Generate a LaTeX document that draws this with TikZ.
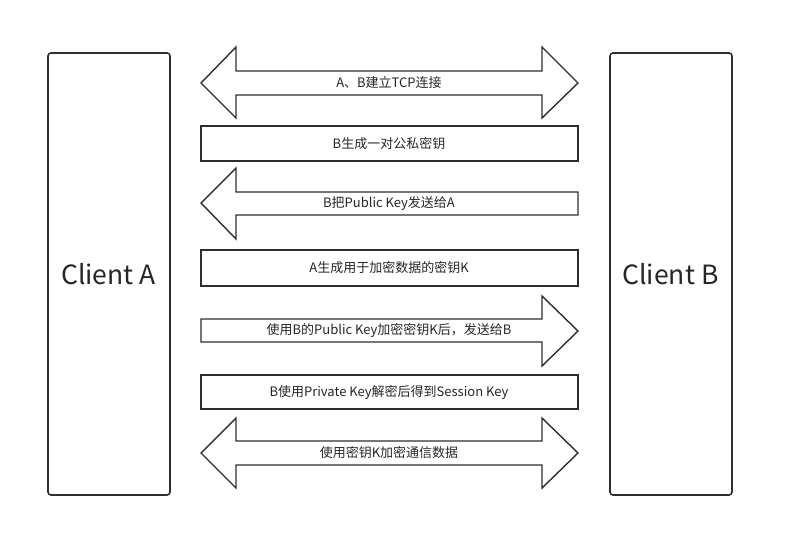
\documentclass[tikz,border=0pt]{standalone}
\usepackage{fontspec}
\setmainfont{Noto Sans CJK SC}
\begin{document}
\begin{tikzpicture}[x=1pt,y=-1pt,
  line/.style={draw=black!82,line width=1.4pt,line join=miter},
  lbl/.style={font=\fontsize{13}{15}\selectfont,text=black!85,inner sep=0pt},
  client/.style={line,line width=1.6pt,rounded corners=3pt},
  big/.style={font=\fontsize{26.5}{30}\selectfont,text=black!85}]
\useasboundingbox (0,0) rectangle (794,558);
% clients
\draw[client] (48,53) rectangle (170,495);
\node[big] (ca) at (108.5,274) {Client A};
\draw[client] (610,53) rectangle (732,495);
\node[big] (cb) at (670.5,274) {Client B};
% 1 double arrow
\draw[line] (201,83) -- (236,47) -- (236,71) -- (542,71) -- (542,47) -- (578,83) -- (542,118) -- (542,95) -- (236,95) -- (236,118) -- cycle;
\node[lbl] (l1) at (389,83) {A、B建立TCP连接};
% 2 rect
\draw[line] (201,126) rectangle (578,161);
\node[lbl] (l2) at (389,143.5) {B生成一对公私密钥};
% 3 left arrow
\draw[line] (201,203) -- (236,168) -- (236,192) -- (578,192) -- (578,215) -- (236,215) -- (236,239) -- cycle;
\node[lbl] (l3) at (389,203.5) {B把Public Key发送给A};
% 4 rect
\draw[line] (201,250) rectangle (578,286);
\node[lbl] (l4) at (389,268) {A生成用于加密数据的密钥K};
% 5 right arrow
\draw[line] (201,319) -- (542,319) -- (542,296) -- (578,331) -- (542,366) -- (542,342) -- (201,342) -- cycle;
\node[lbl] (l5) at (389,330.5) {使用B的Public Key加密密钥K后，发送给B};
% 6 rect
\draw[line] (201,375) rectangle (578,409);
\node[lbl] (l6) at (389,392) {B使用Private Key解密后得到Session Key};
% 7 double arrow
\draw[line] (201,453) -- (236,418) -- (236,441) -- (542,441) -- (542,418) -- (578,453) -- (542,488) -- (542,465) -- (236,465) -- (236,488) -- cycle;
\node[lbl] (l7) at (389,453) {使用密钥K加密通信数据};
\end{tikzpicture}
\end{document}
